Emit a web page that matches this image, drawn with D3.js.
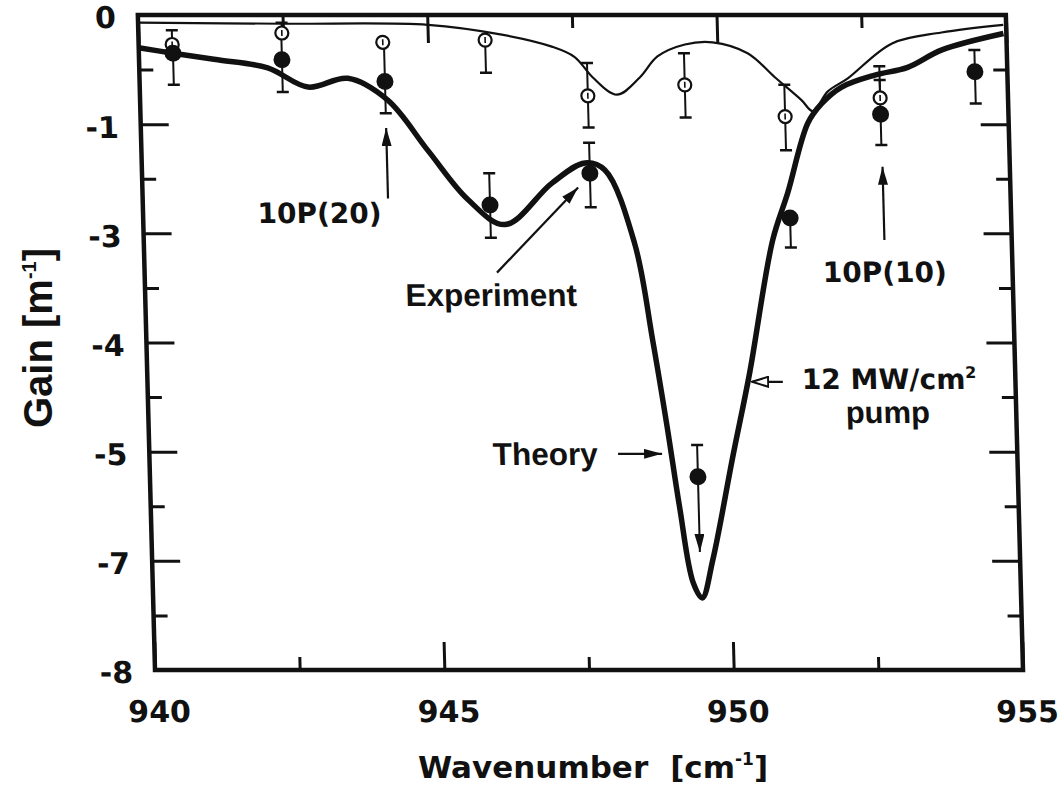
<!DOCTYPE html>
<html>
<head>
<meta charset="utf-8">
<script src="https://cdn.jsdelivr.net/npm/d3@7/dist/d3.min.js"></script>
<style>
    body { margin: 0; background: #fff; }
</style>
</head>
<body>
<div id="chart"></div>
<script>
// ============ DATA ============
// y values are in axis-grid units (one unit per major tick); the printed labels are below
const xTicks = [940, 945, 950, 955];
const xMinorTicks = [942.5, 947.5, 952.5];
const yTicks = [0, -1, -2, -3, -4, -5, -6];
const yTickLabels = ["0", "-1", "-3", "-4", "-5", "-7", "-8"];
const yMinorTicks = [-0.5, -1.5, -2.5, -3.5, -4.5, -5.5];

// Theory, 12 MW/cm2 pump (thick line)
const pumpX = [940.0, 940.59, 941.36, 942.22, 942.91, 943.60, 944.28, 944.95, 945.62, 946.25,
               947.08, 947.66, 948.00, 948.48, 948.75, 948.96, 949.14, 949.34, 949.49, 949.69,
               950.08, 950.41, 950.87, 951.15, 951.53, 951.78, 952.13, 952.71, 953.28, 953.88, 954.95];
const pumpY = [-0.30, -0.35, -0.41, -0.485, -0.66, -0.58, -0.78, -1.24, -1.69, -1.92,
               -1.54, -1.355, -1.42, -2.09, -2.98, -3.77, -4.51, -5.20, -5.34, -4.99,
               -4.05, -3.28, -2.06, -1.63, -0.99, -0.81, -0.66, -0.55, -0.48, -0.32, -0.17];

// Theory, no pump (thin line)
const basX = [940.0, 942.5, 945.01, 946.28, 947.14, 947.53, 947.83, 948.24, 948.65, 948.96,
              949.44, 949.92, 950.52, 950.98, 951.43, 951.62, 951.89, 952.24, 953.02, 953.88, 954.95];
const basY = [-0.07, -0.08, -0.09, -0.18, -0.29, -0.385, -0.57, -0.73, -0.57, -0.38,
              -0.27, -0.25, -0.35, -0.57, -0.78, -0.88, -0.70, -0.58, -0.26, -0.16, -0.09];

// Experiment with pump (filled circles), error bar ends (null = none)
const expX  = [940.59, 942.47, 944.24, 946.00, 947.74, 949.47, 951.18, 952.79, 954.44];
const expY  = [-0.35, -0.41, -0.61, -1.74, -1.45, -4.23, -1.86, -0.91, -0.52];
const expHi = [null, -0.165, -0.25, -1.45, -1.17, -3.94, null, -0.47, -0.32];
const expLo = [-0.64, -0.705, -0.90, -2.04, -1.76, null, -2.13, -1.19, -0.81];

// Experiment without pump (open circles)
const refX  = [940.58, 942.48, 944.22, 945.99, 947.74, 949.42, 951.14, 952.79];
const refY  = [-0.27, -0.165, -0.25, -0.23, -0.74, -0.64, -0.93, -0.76];
const refHi = [-0.14, -0.07, null, null, -0.44, -0.35, -0.64, -0.595];
const refLo = [null, null, null, -0.53, -1.03, -0.94, -1.24, null];

// lower-limit arrow on the deepest experimental point
const limitX = [949.47];
const limitFrom = [-4.30];
const limitTo = [-4.92];

// ============ LAYOUT ============
const W = 1060, H = 791;
const plotW = 868, plotH = 655;
const ink = "#111";

const svg = d3.select("#chart")
    .append("svg")
    .attr("width", W)
    .attr("height", H);

svg.append("rect").attr("width", W).attr("height", H).attr("fill", "#fff");

// arrowheads
const defs = svg.append("defs");
defs.append("marker")
    .attr("id", "headFill")
    .attr("viewBox", "0 0 18 10")
    .attr("refX", 18).attr("refY", 5)
    .attr("markerWidth", 18).attr("markerHeight", 10)
    .attr("markerUnits", "userSpaceOnUse")
    .attr("orient", "auto")
    .append("path")
    .attr("d", "M0,0 L18,5 L0,10 Z")
    .attr("fill", ink);

defs.append("marker")
    .attr("id", "headOpen")
    .attr("viewBox", "-1 -1 18 12")
    .attr("refX", 16).attr("refY", 5)
    .attr("markerWidth", 18).attr("markerHeight", 12)
    .attr("markerUnits", "userSpaceOnUse")
    .attr("orient", "auto")
    .append("path")
    .attr("d", "M0,0 L16,5 L0,10 Z")
    .attr("fill", "#fff")
    .attr("stroke", ink)
    .attr("stroke-width", 2);

// the printed figure is slightly skewed, so the plot group is too
const g = svg.append("g")
    .attr("transform", `translate(155,670) skewX(1.5) translate(0,${-plotH})`);

const x = d3.scaleLinear().domain([940, 955]).range([0, plotW]);
const y = d3.scaleLinear().domain([0, -6]).range([0, plotH]);

// ============ AXES ============
function styleTicks(sel) {
    sel.select(".domain").remove();
    sel.selectAll(".tick line").attr("stroke", ink).attr("stroke-width", 3);
}

// bottom (with labels)
g.append("g")
    .attr("transform", `translate(0,${plotH})`)
    .call(d3.axisBottom(x).tickValues(xTicks).tickSize(-28).tickPadding(31).tickFormat(d3.format("d")))
    .call(styleTicks)
    .selectAll("text")
    .attr("dx", 3)
    .attr("fill", ink)
    .style("font-family", "'DejaVu Sans', sans-serif")
    .style("font-weight", "bold")
    .style("font-size", "30px");

g.append("g")
    .attr("transform", `translate(0,${plotH})`)
    .call(d3.axisBottom(x).tickValues(xMinorTicks).tickSize(-13).tickFormat(""))
    .call(styleTicks);

// top
g.append("g")
    .call(d3.axisTop(x).tickValues(xTicks).tickSize(-28).tickFormat(""))
    .call(styleTicks);
g.append("g")
    .call(d3.axisTop(x).tickValues(xMinorTicks).tickSize(-13).tickFormat(""))
    .call(styleTicks);

// left (with labels)
g.append("g")
    .call(d3.axisLeft(y).tickValues(yTicks).tickSize(-28).tickPadding(22).tickFormat((d, i) => yTickLabels[i]))
    .call(styleTicks)
    .selectAll("text")
    .attr("dy", "0.43em")
    .attr("fill", ink)
    .style("font-family", "'DejaVu Sans', sans-serif")
    .style("font-weight", "bold")
    .style("font-size", "30px");

g.append("g")
    .call(d3.axisLeft(y).tickValues(yMinorTicks).tickSize(-14).tickFormat(""))
    .call(styleTicks);

// right
g.append("g")
    .attr("transform", `translate(${plotW},0)`)
    .call(d3.axisRight(y).tickValues(yTicks).tickSize(-28).tickFormat(""))
    .call(styleTicks);
g.append("g")
    .attr("transform", `translate(${plotW},0)`)
    .call(d3.axisRight(y).tickValues(yMinorTicks).tickSize(-14).tickFormat(""))
    .call(styleTicks);

// frame
g.append("rect")
    .attr("x", 0).attr("y", 0)
    .attr("width", plotW).attr("height", plotH)
    .attr("fill", "none")
    .attr("stroke", ink)
    .attr("stroke-width", 4.5);

// ============ CURVES ============
const line = d3.line()
    .x(d => x(d[0]))
    .y(d => y(d[1]))
    .curve(d3.curveCatmullRom.alpha(0.5));

g.append("path")
    .datum(d3.zip(basX, basY))
    .attr("fill", "none")
    .attr("stroke", ink)
    .attr("stroke-width", 2.2)
    .attr("d", line);

g.append("path")
    .datum(d3.zip(pumpX, pumpY))
    .attr("fill", "none")
    .attr("stroke", ink)
    .attr("stroke-width", 5.5)
    .attr("stroke-linejoin", "round")
    .attr("d", line);

// ============ ERROR BARS ============
function errorBars(xs, ys, his, los) {
    xs.forEach((xv, i) => {
        [his[i], los[i]].forEach(end => {
            if (end === null) return;
            g.append("line")
                .attr("x1", x(xv)).attr("x2", x(xv))
                .attr("y1", y(ys[i])).attr("y2", y(end))
                .attr("stroke", ink).attr("stroke-width", 2);
            g.append("line")
                .attr("x1", x(xv) - 6).attr("x2", x(xv) + 6)
                .attr("y1", y(end)).attr("y2", y(end))
                .attr("stroke", ink).attr("stroke-width", 2.5);
        });
    });
}
errorBars(refX, refY, refHi, refLo);
errorBars(expX, expY, expHi, expLo);

// lower-limit arrow
limitX.forEach((xv, i) => {
    g.append("line")
        .attr("x1", x(xv)).attr("x2", x(xv))
        .attr("y1", y(limitFrom[i])).attr("y2", y(limitTo[i]))
        .attr("stroke", ink).attr("stroke-width", 2)
        .attr("marker-end", "url(#headFill)");
});

// open circles
g.selectAll(".ref")
    .data(d3.zip(refX, refY))
    .enter()
    .append("circle")
    .attr("class", "ref")
    .attr("cx", d => x(d[0]))
    .attr("cy", d => y(d[1]))
    .attr("r", 6.5)
    .attr("fill", "#fff")
    .attr("stroke", ink)
    .attr("stroke-width", 2.2);

// small mark inside open circles
g.selectAll(".refmark")
    .data(d3.zip(refX, refY))
    .enter()
    .append("line")
    .attr("class", "refmark")
    .attr("x1", d => x(d[0])).attr("x2", d => x(d[0]))
    .attr("y1", d => y(d[1]) - 3).attr("y2", d => y(d[1]) + 3)
    .attr("stroke", ink).attr("stroke-width", 1.6);

// filled circles
g.selectAll(".exp")
    .data(d3.zip(expX, expY))
    .enter()
    .append("circle")
    .attr("class", "exp")
    .attr("cx", d => x(d[0]))
    .attr("cy", d => y(d[1]))
    .attr("r", 8.5)
    .attr("fill", ink);

// ============ ANNOTATIONS ============
function arrow(x1, y1, x2, y2, head) {
    g.append("line")
        .attr("x1", x(x1)).attr("y1", y(y1))
        .attr("x2", x(x2)).attr("y2", y(y2))
        .attr("stroke", ink)
        .attr("stroke-width", 2.2)
        .attr("marker-end", `url(#${head})`);
}
arrow(944.24, -1.68, 944.24, -1.035, "headFill");   // 10P(20)
arrow(952.80, -2.06, 952.80, -1.39, "headFill");    // 10P(10)
arrow(946.09, -2.36, 947.53, -1.58, "headFill");    // Experiment
arrow(948.10, -4.02, 948.86, -4.02, "headFill");    // Theory
arrow(950.98, -3.36, 950.45, -3.36, "headOpen");    // 12 MW/cm2

function label(xv, yv, anchor, family, size) {
    return g.append("text")
        .attr("x", x(xv)).attr("y", y(yv))
        .attr("text-anchor", anchor)
        .attr("fill", ink)
        .style("font-family", family)
        .style("font-weight", "bold")
        .style("font-size", size + "px");
}
const sans = "'Liberation Sans', Arial, sans-serif";
const wide = "'DejaVu Sans', sans-serif";

label(943.05, -1.905, "middle", wide, 28).text("10P(20)");
label(952.79, -2.45, "middle", wide, 28).text("10P(10)");
label(945.98, -2.67, "middle", sans, 31.5).text("Experiment");
label(947.75, -4.12, "end", sans, 31.5).text("Theory");

const mw = label(951.31, -3.43, "start", wide, 28);
mw.append("tspan").text("12 MW/cm");
mw.append("tspan").attr("dy", -11).style("font-size", "16px").text("2");
label(952.78, -3.74, "middle", sans, 31).text("pump");

// axis titles
const xt = svg.append("text")
    .attr("x", 418).attr("y", 778)
    .attr("fill", ink)
    .style("font-family", wide)
    .style("font-weight", "bold")
    .style("font-size", "31px");
xt.append("tspan").text("Wavenumber");
xt.append("tspan").attr("dx", 22).text("[cm");
xt.append("tspan").attr("dy", -13).style("font-size", "17px").text("-1");
xt.append("tspan").attr("dy", 13).text("]");

const yt = svg.append("text")
    .attr("transform", "translate(52,338) rotate(-90)")
    .attr("text-anchor", "middle")
    .attr("fill", ink)
    .style("font-family", sans)
    .style("font-weight", "bold")
    .style("font-size", "40px");
yt.append("tspan").text("Gain [m");
yt.append("tspan").attr("dy", -16).style("font-size", "20px").text("-1");
yt.append("tspan").attr("dy", 16).text("]");
</script>
</body>
</html>
